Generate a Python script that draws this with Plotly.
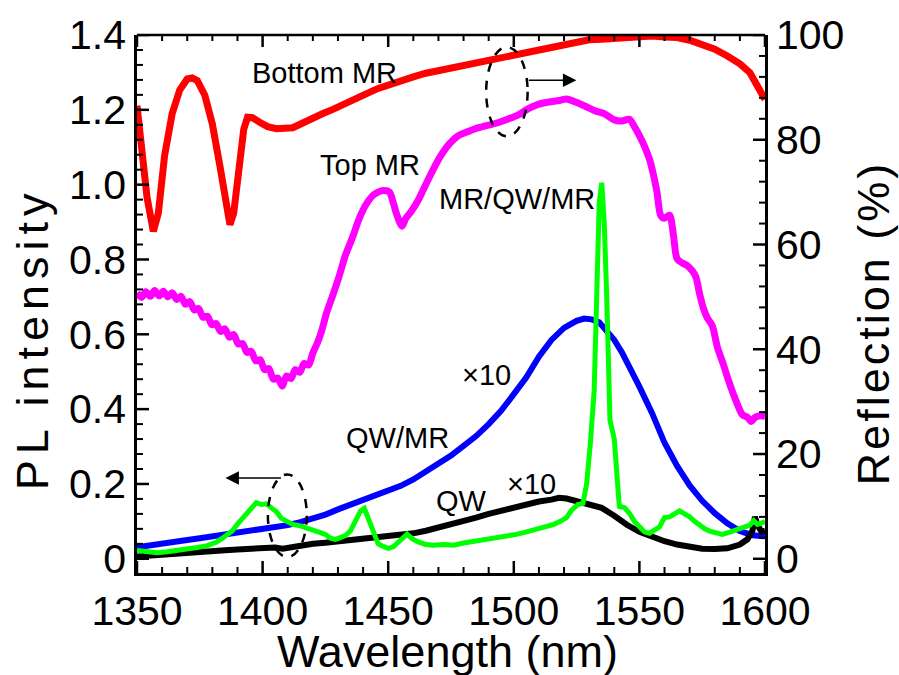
import plotly.graph_objects as go

# ---- Reflection spectra (%), right axis ----
bottom_mr_wl = [1350, 1352, 1354, 1356.5, 1358.5, 1361, 1364, 1367, 1370, 1372, 1374, 1377, 1380,
                1383, 1385.5, 1387, 1388.5, 1390.5, 1392.5, 1394, 1396, 1399, 1402, 1405.5, 1409,
                1412, 1416, 1420, 1424, 1428, 1432, 1436, 1441, 1446, 1450, 1455, 1460, 1465, 1470,
                1475, 1480, 1485, 1490, 1495, 1500, 1505, 1510, 1515, 1520, 1525, 1530, 1535, 1540,
                1545, 1550, 1555, 1560, 1565, 1570, 1575, 1580, 1585, 1590, 1594, 1597, 1600]
bottom_mr_refl = [86.5, 78, 69, 62.5, 66, 77, 85, 89.5, 91.6, 91.8, 91.3, 88.5, 83,
                  75, 67, 63.8, 66, 75, 82, 84.3, 84.2, 83.3, 82.5, 82.1, 82.1,
                  82.3, 83.2, 84.2, 85, 85.8, 86.8, 87.7, 88.7, 89.8, 90.5, 91.2, 92, 92.7, 93.2,
                  93.6, 94.2, 94.7, 95.2, 95.8, 96.3, 96.8, 97.4, 97.9, 98.4, 98.8, 99.1, 99.2, 99.4,
                  99.6, 99.8, 99.8, 99.6, 99.5, 99.0, 98.3, 97.3, 96.0, 94.5, 92.8, 90.5, 87.7]

top_mr_wl = [1350.0, 1351.8, 1353.5, 1355.3, 1357.0, 1358.8, 1360.5, 1362.3, 1364.0, 1365.8,
             1367.5, 1369.3, 1371.0, 1372.8, 1374.5, 1376.3, 1378.0, 1379.8, 1381.5, 1383.3,
             1385.0, 1386.8, 1388.5, 1390.3, 1392.0, 1393.8, 1395.5, 1397.3, 1399.0, 1400.8,
             1402.5, 1404.3, 1406.0, 1407.8, 1409.5, 1411.3, 1413.0, 1414.8, 1416.5, 1418.3,
             1420.0, 1421.8, 1423.5, 1425.5, 1428, 1430.5, 1433, 1435.5, 1438.5, 1441, 1444,
             1446, 1448, 1450.5, 1452, 1453.5, 1455.5, 1457, 1459, 1462, 1465, 1468, 1471,
             1474.5, 1478, 1482, 1486, 1490, 1494, 1498, 1502, 1506, 1510, 1514, 1518, 1521,
             1524, 1528, 1532, 1536, 1540, 1543, 1546, 1548, 1550, 1552, 1554, 1555.5, 1557,
             1558.5, 1560, 1562, 1563.5, 1565, 1567, 1569, 1571, 1572.5, 1574, 1575.5, 1577,
             1579, 1581, 1583.5, 1585.5, 1587.5, 1589, 1591, 1593, 1594.5, 1596, 1598, 1600]
top_mr_refl = [50.8, 49.9, 51.0, 50.1, 51.2, 50.2, 51.1, 50.0, 50.8, 49.5,
               50.1, 48.6, 49.1, 47.5, 47.8, 46.1, 46.3, 44.7, 44.9, 43.4,
               43.9, 42.3, 42.8, 41.0, 41.1, 39.4, 39.6, 37.8, 38.0, 36.1,
               36.3, 34.3, 34.5, 33.0, 34.9, 34.4, 36.1, 35.6, 37.3, 37.0,
               39.3, 41.2, 43.5, 47.0, 50.4, 54.0, 58.0, 61.0, 65.0, 67.5, 69.4,
               70.0, 70.3, 70.0, 68.0, 65.6, 63.5, 65.0, 66.2, 68.5, 71.5, 74.4, 77.0,
               79.3, 80.8, 81.6, 82.3, 82.8, 83.3, 84.0, 84.8, 86.0, 86.8, 87.2, 87.5, 87.8,
               87.3, 86.5, 85.6, 85.0, 83.8, 83.6, 83.9, 82.5, 80.8, 78.8, 76.3, 73.5, 70.0,
               65.5, 65.0, 65.6, 62.0, 57.3, 56.5, 56.0, 55.0, 53.8, 50.5, 47.8, 46.0,
               44.5, 40.5, 37.0, 34.0, 31.3, 29.5, 27.5, 27.0, 26.2, 27.0, 27.3, 27.2]

# ---- PL spectra, left axis ----
qw_mr_wl = [1350, 1355, 1360, 1365, 1370, 1375, 1380, 1385, 1390, 1395, 1400, 1405, 1410, 1415,
            1420, 1425, 1430, 1435, 1440, 1445, 1450, 1455, 1460, 1465, 1470, 1475, 1480, 1485,
            1490, 1495, 1500, 1505, 1510, 1515, 1520, 1525, 1528, 1531, 1534, 1537, 1540, 1543,
            1546, 1550, 1555, 1560, 1565, 1570, 1575, 1580, 1585, 1590, 1595, 1598, 1600]
qw_mr_pl = [0.031, 0.035, 0.040, 0.045, 0.050, 0.055, 0.060, 0.064, 0.068, 0.072, 0.077, 0.084,
            0.090, 0.098, 0.107, 0.118, 0.132, 0.145, 0.157, 0.168, 0.181, 0.195, 0.212, 0.232,
            0.252, 0.276, 0.302, 0.328, 0.360, 0.396, 0.440, 0.485, 0.540, 0.585, 0.617, 0.636,
            0.642, 0.640, 0.632, 0.610, 0.585, 0.552, 0.515, 0.460, 0.390, 0.310, 0.248, 0.196,
            0.155, 0.122, 0.095, 0.074, 0.063, 0.062, 0.060]

qw_wl = [1350, 1355, 1360, 1365, 1370, 1375, 1380, 1385, 1390, 1395, 1400, 1405, 1408, 1411,
         1415, 1420, 1425, 1430, 1435, 1440, 1445, 1450, 1455, 1460, 1465, 1470, 1475, 1480,
         1485, 1490, 1495, 1500, 1505, 1510, 1515, 1518, 1521, 1525, 1530, 1535, 1540, 1545,
         1550, 1555, 1560, 1565, 1570, 1575, 1580, 1585, 1590, 1593, 1595, 1596, 1597, 1598.5, 1600]
qw_pl = [0.006, 0.009, 0.011, 0.013, 0.016, 0.018, 0.021, 0.023, 0.025, 0.027, 0.028, 0.030,
         0.027, 0.031, 0.036, 0.040, 0.043, 0.046, 0.050, 0.053, 0.056, 0.059, 0.062, 0.068,
         0.075, 0.083, 0.090, 0.100, 0.110, 0.120, 0.128, 0.138, 0.147, 0.153, 0.158, 0.163,
         0.161, 0.155, 0.147, 0.136, 0.115, 0.091, 0.072, 0.058, 0.047, 0.038, 0.031, 0.027,
         0.026, 0.028, 0.038, 0.052, 0.075, 0.112, 0.090, 0.073, 0.075]

mqm_wl = [1350, 1354, 1358, 1362, 1366, 1370, 1374, 1378, 1381.5, 1384, 1386, 1388, 1390, 1392,
          1394, 1396, 1397.5, 1399.5, 1401.5, 1403.5, 1405.5, 1407.5, 1409.5, 1412, 1415, 1418,
          1421, 1423, 1425, 1427, 1429, 1431, 1433, 1435, 1437, 1439, 1440.5, 1442, 1444, 1446,
          1448, 1450, 1452, 1454, 1456, 1457.5, 1459.5, 1462, 1465, 1468, 1472, 1476, 1480,
          1484, 1488, 1492, 1496, 1500, 1504, 1508, 1512, 1516, 1519, 1521, 1523, 1525.5,
          1527.5, 1529, 1530.5, 1532, 1533, 1534, 1535, 1536, 1537, 1538.3, 1540, 1542, 1544,
          1546, 1548, 1550, 1552, 1554, 1556, 1558, 1560, 1562, 1564, 1566, 1568, 1570, 1572,
          1574, 1576, 1578, 1580, 1583, 1586, 1589, 1592, 1594, 1595.5, 1597, 1598.5, 1600]
mqm_pl = [0.022, 0.020, 0.016, 0.019, 0.022, 0.025, 0.030, 0.035, 0.044, 0.055, 0.066, 0.075,
          0.093, 0.108, 0.122, 0.142, 0.150, 0.145, 0.147, 0.136, 0.126, 0.108, 0.100, 0.092,
          0.088, 0.080, 0.075, 0.070, 0.065, 0.055, 0.052, 0.058, 0.062, 0.075, 0.100, 0.128,
          0.135, 0.110, 0.075, 0.040, 0.033, 0.028, 0.032, 0.045, 0.060, 0.066, 0.054, 0.045,
          0.038, 0.036, 0.038, 0.036, 0.042, 0.046, 0.050, 0.053, 0.058, 0.064, 0.070, 0.078,
          0.085, 0.092, 0.102, 0.110, 0.130, 0.145, 0.148, 0.200, 0.310, 0.450, 0.700, 0.950,
          1.005, 0.900, 0.700, 0.370, 0.320, 0.140, 0.137, 0.122, 0.100, 0.085, 0.072, 0.068,
          0.075, 0.085, 0.110, 0.112, 0.120, 0.128, 0.120, 0.112, 0.100, 0.088, 0.080, 0.074,
          0.071, 0.065, 0.071, 0.078, 0.085, 0.090, 0.102, 0.092, 0.095, 0.100]

# ---- Axis ticks ----
x_major = [1350, 1400, 1450, 1500, 1550, 1600]
pl_major = [0, 0.2, 0.4, 0.6, 0.8, 1.0, 1.2, 1.4]
pl_labels = ["0", "0.2", "0.4", "0.6", "0.8", "1.0", "1.2", "1.4"]
refl_major = [0, 20, 40, 60, 80, 100]
x_minor = [v for v in range(1350, 1601, 10) if v % 50]
pl_minor = [round(0.04 * k, 2) for k in range(36) if k % 5]
refl_minor = [4 * k for k in range(26) if k % 5]

FONT = "Liberation Sans, Arial, sans-serif"
PL_RANGE = [-0.038, 1.4]
REFL_RANGE = [PL_RANGE[0] / 1.4 * 100, 100]

fig = go.Figure()
fig.add_trace(go.Scatter(x=top_mr_wl, y=top_mr_refl, yaxis="y2", mode="lines",
                         line=dict(color="#ff00ff", width=7, shape="spline", smoothing=0.8),
                         name="Top MR"))
fig.add_trace(go.Scatter(x=bottom_mr_wl, y=bottom_mr_refl, yaxis="y2", mode="lines",
                         line=dict(color="#ff0000", width=7), name="Bottom MR"))
fig.add_trace(go.Scatter(x=qw_mr_wl, y=qw_mr_pl, mode="lines",
                         line=dict(color="#0000ff", width=6), name="QW/MR"))
fig.add_trace(go.Scatter(x=qw_wl, y=qw_pl, mode="lines",
                         line=dict(color="#000000", width=6), name="QW"))
fig.add_trace(go.Scatter(x=mqm_wl, y=mqm_pl, mode="lines",
                         line=dict(color="#00ff00", width=5), name="MR/QW/MR"))

tick_font = dict(family=FONT, size=41, color="black")

fig.update_layout(
    width=899, height=675,
    margin=dict(l=137, r=134, t=30, b=102),
    paper_bgcolor="white", plot_bgcolor="white",
    showlegend=False,
    font=dict(family=FONT, color="black"),
    xaxis=dict(range=[1350, 1600], tickvals=x_major, showline=True, linecolor="black",
               linewidth=2.5, ticks="", showgrid=False, zeroline=False, tickfont=tick_font),
    yaxis=dict(range=PL_RANGE, tickvals=pl_major, ticktext=pl_labels, showline=True,
               linecolor="black", linewidth=2.5, ticks="", showgrid=False, zeroline=False,
               tickfont=tick_font),
    yaxis2=dict(range=REFL_RANGE, tickvals=refl_major, overlaying="y", side="right",
                showline=True, linecolor="black", linewidth=2.5, ticks="", showgrid=False,
                zeroline=False, tickfont=tick_font),
)

# Tick marks pointing into the frame (major 12 px, minor 6 px)
def xtick(v, length, width):
    for anchor, sign in ((0, 1), (1, -1)):
        fig.add_shape(type="line", xref="x", yref="paper", x0=v, x1=v,
                      ysizemode="pixel", yanchor=anchor, y0=0, y1=sign * length,
                      line=dict(color="black", width=width))

def ytick(v, yref, anchor, sign, length, width):
    fig.add_shape(type="line", xref="paper", yref=yref, y0=v, y1=v,
                  xsizemode="pixel", xanchor=anchor, x0=0, x1=sign * length,
                  line=dict(color="black", width=width))

for v in x_major:
    xtick(v, 12, 2.5)
for v in x_minor:
    xtick(v, 6, 2)
for v in pl_major:
    ytick(v, "y", 0, 1, 12, 2.5)
for v in pl_minor:
    ytick(v, "y", 0, 1, 6, 2)
for v in refl_major:
    ytick(v, "y2", 1, -1, 12, 2.5)
for v in refl_minor:
    ytick(v, "y2", 1, -1, 6, 2)

# top edge of the frame
fig.add_shape(type="line", xref="paper", yref="paper", x0=0, x1=1, y0=1, y1=1,
              line=dict(color="black", width=2.5))

# Axis titles
title_font = dict(family=FONT, size=45, color="black")
fig.add_annotation(text='<span style="letter-spacing:6px">PL intensity</span>',
                   xref="paper", yref="paper", x=-0.165, y=0.435,
                   textangle=-90, showarrow=False, font=title_font,
                   xanchor="center", yanchor="middle")
fig.add_annotation(text='<span style="letter-spacing:3px">Reflection (%)</span>',
                   xref="paper", yref="paper", x=1.172, y=0.464,
                   textangle=-90, showarrow=False, font=title_font,
                   xanchor="center", yanchor="middle")
fig.add_annotation(text="Wavelength (nm)", xref="paper", yref="paper", x=0.494, y=-0.145,
                   showarrow=False, font=title_font, xanchor="center", yanchor="middle")

# Curve labels
label_font = dict(family=FONT, size=29, color="black")
for txt, lx, ly in [("Bottom MR", 1424.6, 1.298), ("Top MR", 1442.6, 1.052),
                    ("MR/QW/MR", 1501.1, 0.962), ("\u00d710", 1489.1, 0.491),
                    ("QW/MR", 1453.7, 0.324), ("QW", 1479.2, 0.155),
                    ("\u00d710", 1507.0, 0.200)]:
    fig.add_annotation(text=txt, x=lx, y=ly, xref="x", yref="y", showarrow=False,
                       font=label_font, xanchor="center", yanchor="middle")

# Dashed ellipses marking which axis each group uses
fig.add_shape(type="circle", xref="x", yref="y", x0=1489.0, x1=1505.5, y0=1.129, y1=1.3677,
              line=dict(color="black", width=2.5, dash="dash"))
fig.add_shape(type="circle", xref="x", yref="y", x0=1402.1, x1=1417.6, y0=0.0048, y1=0.2256,
              line=dict(color="black", width=2.5, dash="dash"))

# Arrows pointing to the relevant axis
fig.add_annotation(x=1524.9, y=1.279, ax=1505.4, ay=1.279, xref="x", yref="y",
                   axref="x", ayref="y", text="", showarrow=True, arrowhead=2,
                   arrowsize=1.8, arrowwidth=1.5, arrowcolor="black")
fig.add_annotation(x=1385.2, y=0.2156, ax=1407.9, ay=0.2156, xref="x", yref="y",
                   axref="x", ayref="y", text="", showarrow=True, arrowhead=2,
                   arrowsize=1.8, arrowwidth=1.5, arrowcolor="black")

fig.write_html("out.html")
